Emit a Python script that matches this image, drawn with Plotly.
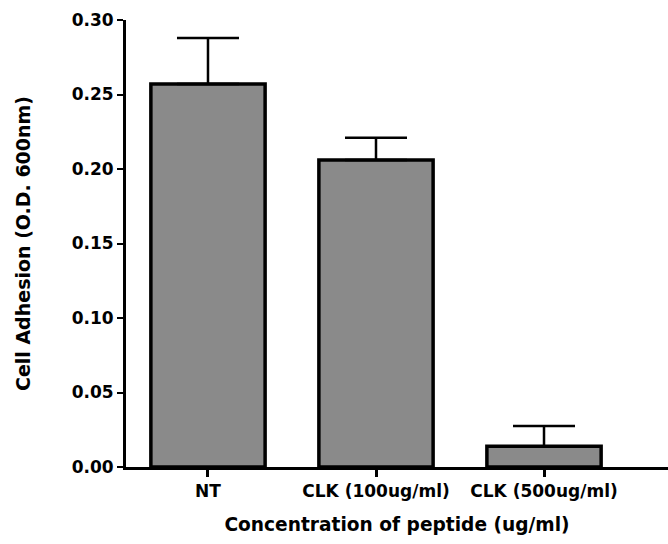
import plotly.graph_objects as go

categories = ["NT", "CLK (100ug/ml)", "CLK (500ug/ml)"]
values = [0.257, 0.206, 0.014]
errors = [0.031, 0.015, 0.0135]
y_ticks = [0.00, 0.05, 0.10, 0.15, 0.20, 0.25, 0.30]
y_tick_labels = ["0.00", "0.05", "0.10", "0.15", "0.20", "0.25", "0.30"]

font_family = "DejaVu Sans, Verdana, sans-serif"

fig = go.Figure()
fig.add_trace(go.Bar(
    x=list(range(len(categories))),
    y=values,
    width=0.68,
    marker=dict(color="#8a8a8a", line=dict(color="black", width=3.5)),
    error_y=dict(type="data", array=errors, arrayminus=[0] * len(errors),
                 symmetric=False, color="black", thickness=2.5, width=31),
    showlegend=False,
))

fig.update_layout(
    width=668, height=544,
    margin=dict(l=126, r=0, t=20, b=77),
    paper_bgcolor="white", plot_bgcolor="white",
    font=dict(family=font_family, color="black"),
)
fig.update_xaxes(
    tickmode="array", tickvals=list(range(len(categories))), ticktext=categories,
    range=[-0.488, 2.738], automargin=False,
    showline=True, linecolor="black", linewidth=3,
    ticks="outside", ticklen=7, tickwidth=3, tickcolor="black",
    showgrid=False, zeroline=False,
    tickfont=dict(size=17, family=font_family, color="black", weight="bold"),
    title=dict(text="Concentration of peptide (ug/ml)", standoff=18,
               font=dict(size=18.6, family=font_family, color="black", weight="bold")),
)
fig.update_yaxes(
    range=[0, 0.30], tickmode="array", tickvals=y_ticks, ticktext=y_tick_labels,
    showline=True, linecolor="black", linewidth=3, automargin=False,
    ticks="outside", ticklen=6, tickwidth=2, tickcolor="black",
    showgrid=False, zeroline=False,
    tickfont=dict(size=17, family=font_family, color="black", weight="bold"),
    title=dict(text="Cell Adhesion (O.D. 600nm)", standoff=36,
               font=dict(size=19, family=font_family, color="black", weight="bold")),
)

fig.write_html(
    "out.html",
    config={"displayModeBar": False},
    post_script="document.body.style.margin='0';document.body.style.overflow='hidden';",
)
